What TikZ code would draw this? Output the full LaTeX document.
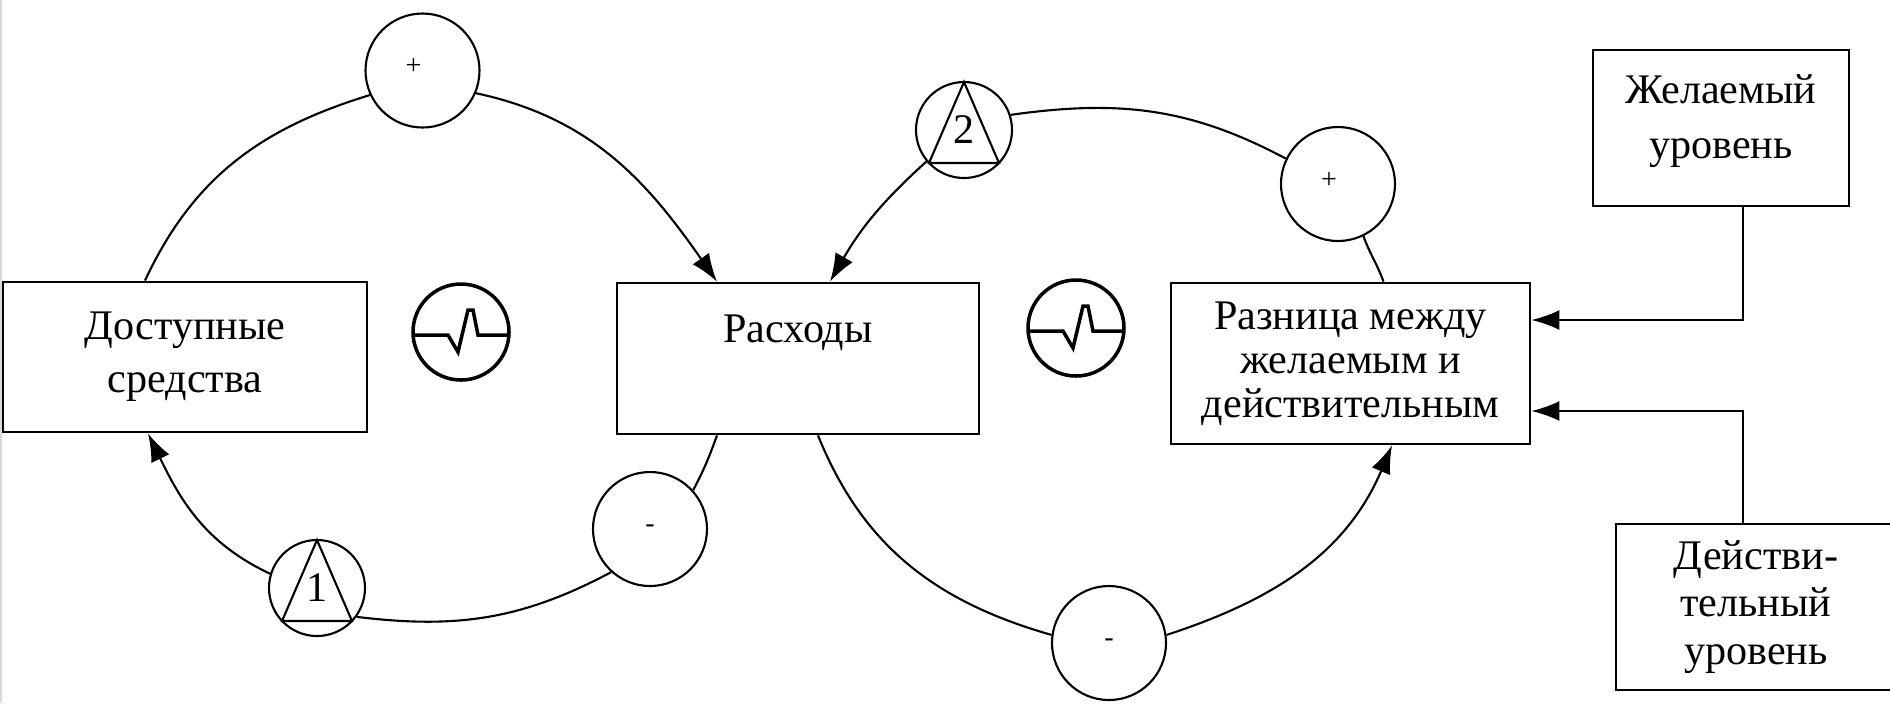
\documentclass[tikz,border=0pt]{standalone}
\usepackage{fontspec}
\setmainfont{Liberation Serif}
\usetikzlibrary{arrows.meta}
\definecolor{edgegray}{RGB}{222,216,206}

\begin{document}
\begin{tikzpicture}[
  >={Latex[length=2.8mm,width=2mm]},
  every node/.style={font=\fontsize{12}{15}\selectfont},
  box/.style={draw, rectangle, line width=0.8pt, align=center, inner sep=0pt},
  sign/.style={draw, circle, line width=0.6pt, minimum size=1.14cm, inner sep=0pt, font=\fontsize{8}{8}\selectfont},
  plussign/.style={label={[font=\fontsize{8}{8}\selectfont, xshift=-0.9mm, yshift=0.35mm]center:+}},
  loopmark/.style={draw, circle, line width=0.6pt, minimum size=0.96cm, inner sep=0pt},
  delaymark/.style={draw, circle, line width=1pt, minimum size=0.96cm, inner sep=0pt},
  link/.style={line width=0.6pt}
]

%% frame
\useasboundingbox (0,0) rectangle (18.9,-7.03);
\clip (0,0) rectangle (18.9,-7.03);
\fill[edgegray] (0,0) rectangle (0.025,-7.03);

%% boxes
\node[box, minimum width=3.64cm, minimum height=1.50cm] (avail) at (1.85,-3.57) {Доступные\\средства};
\node[box, minimum width=3.62cm, minimum height=1.51cm] (spend) at (7.98,-3.585) {Расходы\\[2pt]~};
\node[box, minimum width=3.59cm, minimum height=1.61cm, font=\fontsize{12}{12.5}\selectfont] (gap) at (13.505,-3.635) {Разница между\\желаемым и\\действительным};
\node[box, minimum width=2.56cm, minimum height=1.56cm, font=\fontsize{12}{15.6}\selectfont] (want) at (17.21,-1.28) {Желаемый\\уровень\\[-9pt]\mbox{}};
\node[box, minimum width=2.80cm, minimum height=1.66cm, font=\fontsize{12}{13.5}\selectfont] (real) at (17.56,-6.07) {Действи-\\тельный\\уровень};

%% circles
\node[sign, plussign] (plus1) at (4.225,-0.705) {};
\node[sign] (minus1) at (6.50,-5.29) {-};
\node[loopmark] (tri1) at (3.17,-5.88) {1};
\node[delaymark] (delay1) at (4.61,-3.32) {};
\node[loopmark] (tri2) at (9.64,-1.30) {2};
\node[sign, plussign] (plus2) at (13.38,-1.84) {};
\node[delaymark] (delay2) at (10.76,-3.28) {};
\node[sign] (minus2) at (11.09,-6.43) {-};

%% triangles and delays
\foreach \t in {tri1,tri2}
  \draw[link, shift={(\t.center)}] (0,0.48) -- (-0.35,-0.33) -- (0.35,-0.33) -- cycle;
\foreach \d in {delay1,delay2}
  \draw[line width=1pt, shift={(\d.center)}] (-0.48,-0.03) -- (-0.13,-0.03) -- (-0.03,-0.20) -- (0.07,0.22) -- (0.12,0.22) -- (0.17,-0.03) -- (0.48,-0.03);

%% loop 1
\draw[link] ([xshift=-4mm]avail.north) to[out=65,in=197] (plus1.205);
\draw[link,->] (plus1.-23) to[out=-12,in=125] ([xshift=-8.1mm]spend.north);
\draw[link] ([xshift=-8.1mm]spend.south) to[out=-110,in=62] (minus1.42);
\draw[link] (minus1.228) to[out=208,in=-7] (tri1.-36);
\draw[link,->] (tri1.163) to[out=155,in=-64] ([xshift=-3.7mm]avail.south);

%% loop 2
\draw[link] ([xshift=3.3mm]gap.north) to[out=110,in=-70] (plus2.-64);
\draw[link] (plus2.154) to[out=152,in=8] (tri2.18);
\draw[link,->] (tri2.220) to[out=222,in=60] ([xshift=3.2mm]spend.north);
\draw[link] ([xshift=2mm]spend.south) to[out=-68,in=164] (minus2.172);
\draw[link,->] (minus2.8) to[out=18,in=-113] ([xshift=4.15mm]gap.south);

%% levels
\draw[link,->] ([xshift=2.2mm]want.south) |- ([yshift=4.35mm]gap.east);
\draw[link,->] ([xshift=-1.3mm]real.north) |- ([yshift=-4.75mm]gap.east);
\end{tikzpicture}
\end{document}
